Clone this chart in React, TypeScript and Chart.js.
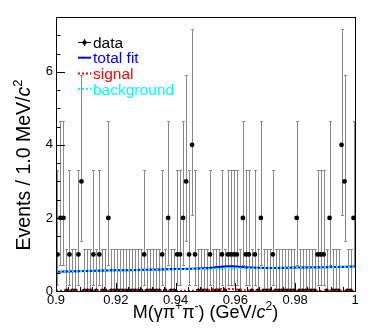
import React, { useEffect, useRef } from "react";
import { Chart, registerables } from "chart.js";

Chart.register(...registerables);

// ---- data ----
const binLow = 0.9;
const binWidth = 0.001;
// events per 1 MeV bin, 0.900 - 1.000 GeV
const counts = [
  1, 2, 2, 0, 1, 0, 0, 1, 3, 0,
  0, 0, 1, 0, 1, 0, 0, 2, 0, 0,
  0, 0, 0, 0, 0, 0, 0, 0, 0, 1,
  0, 0, 0, 0, 0, 1, 0, 2, 0, 0,
  1, 1, 2, 3, 1, 4, 1, 0, 0, 0,
  0, 1, 0, 0, 0, 1, 0, 1, 1, 1,
  1, 0, 2, 1, 1, 0, 1, 0, 2, 0,
  0, 0, 1, 0, 0, 0, 0, 0, 0, 0,
  2, 0, 0, 0, 0, 0, 0, 1, 1, 1,
  0, 2, 0, 0, 0, 4, 3, 0, 0, 2,
];
// Poisson (Garwood) interval half-widths by count
const poissonLo = [0, 0.83, 1.29, 1.63, 1.91];
const poissonHi = [1.15, 2.3, 2.64, 2.92, 3.16];

const fitX = [0.9, 0.91, 0.92, 0.93, 0.94, 0.945, 0.95, 0.953, 0.956, 0.959, 0.962, 0.965, 0.97, 0.98, 0.99, 1.0];
const totalFit = [0.53, 0.548, 0.565, 0.58, 0.6, 0.607, 0.625, 0.645, 0.67, 0.675, 0.66, 0.64, 0.632, 0.64, 0.652, 0.67];
const background = [0.53, 0.548, 0.565, 0.58, 0.595, 0.6, 0.605, 0.608, 0.612, 0.615, 0.618, 0.62, 0.625, 0.64, 0.652, 0.67];

const sigX = [0.9, 0.94, 0.948, 0.951, 0.954, 0.957, 0.96, 0.963, 0.966, 0.975, 1.0];
const signal = [0.006, 0.007, 0.01, 0.025, 0.05, 0.06, 0.045, 0.02, 0.009, 0.006, 0.006];

const xTicks = [0.9, 0.92, 0.94, 0.96, 0.98, 1.0];
const xTickLabels = ["0.9", "0.92", "0.94", "0.96", "0.98", "1"];
const yTicks = [0, 2, 4, 6];
const yTickLabels = ["0", "2", "4", "6"];
const legendLabels = ["data", "total fit", "signal", "background"];

const FONT = "'Liberation Sans', Arial, Helvetica, sans-serif";

const binCenters = counts.map((_, i) => binLow + (i + 0.5) * binWidth);

type Seg = { t: string; italic?: boolean; sup?: boolean };

function drawRich(ctx: CanvasRenderingContext2D, segs: Seg[], size: number, cx: number, baseY: number) {
  const fontFor = (s: Seg) => `${s.italic ? "italic " : ""}${s.sup ? Math.round(size * 0.68) : size}px ${FONT}`;
  let total = 0;
  const widths = segs.map((s) => {
    ctx.font = fontFor(s);
    const w = ctx.measureText(s.t).width;
    total += w;
    return w;
  });
  let x = cx - total / 2;
  ctx.textAlign = "left";
  ctx.textBaseline = "alphabetic";
  segs.forEach((s, i) => {
    ctx.font = fontFor(s);
    ctx.fillText(s.t, x, s.sup ? baseY - size * 0.42 : baseY);
    x += widths[i];
  });
}

const rootPlugin = {
  id: "rootStyle",
  beforeDatasetsDraw(chart: any) {
    const { ctx, scales } = chart;
    const x = scales.x;
    const y = scales.y;
    ctx.save();
    ctx.strokeStyle = "#8a8a8a";
    ctx.lineWidth = 1;
    counts.forEach((n, i) => {
      const cx = Math.round(x.getPixelForValue(binCenters[i])) + 0.5;
      const yHi = Math.round(y.getPixelForValue(n + poissonHi[n])) + 0.5;
      const yLo = Math.round(y.getPixelForValue(n - poissonLo[n])) + 0.5;
      ctx.beginPath();
      ctx.moveTo(cx, yLo);
      ctx.lineTo(cx, yHi);
      ctx.moveTo(cx - 1.5, yHi);
      ctx.lineTo(cx + 1.5, yHi);
      if (n > 0) {
        ctx.moveTo(cx - 1.5, yLo);
        ctx.lineTo(cx + 1.5, yLo);
      }
      ctx.stroke();
    });
    ctx.restore();
  },
  afterDatasetsDraw(chart: any) {
    const { ctx, chartArea, scales } = chart;
    const x = scales.x;
    const y = scales.y;
    const { left, right, top, bottom } = chartArea;
    ctx.save();
    // frame
    ctx.strokeStyle = "#000";
    ctx.lineWidth = 1;
    ctx.strokeRect(Math.round(left) + 0.5, Math.round(top) + 0.5, Math.round(right - left), Math.round(bottom - top));
    // y ticks
    ctx.beginPath();
    for (let v = 0; v <= 7.5 + 1e-9; v += 0.5) {
      const py = Math.round(y.getPixelForValue(v)) + 0.5;
      const major = yTicks.some((t) => Math.abs(t - v) < 1e-9);
      ctx.moveTo(left, py);
      ctx.lineTo(left + (major ? 9 : 4.5), py);
    }
    // x ticks
    for (let k = 0; k <= 25; k++) {
      const v = 0.9 + k * 0.004;
      const px = Math.round(x.getPixelForValue(v)) + 0.5;
      const major = k % 5 === 0;
      ctx.moveTo(px, bottom);
      ctx.lineTo(px, bottom - (major ? 8 : 4));
    }
    ctx.stroke();

    // legend
    const lx0 = 78;
    const lx1 = 91;
    const tx = 93;
    const baselines = [47.5, 63.2, 78.9, 94.6];
    const colors = ["#000000", "#0000ff", "#ff0000", "#00ffff"];
    legendLabels.forEach((lab, i) => {
      const by = baselines[i];
      const my = by - 5.5;
      ctx.save();
      if (i === 0) {
        ctx.strokeStyle = "#000";
        ctx.lineWidth = 1;
        ctx.beginPath();
        ctx.moveTo(lx0, my + 0.5);
        ctx.lineTo(lx1, my + 0.5);
        ctx.moveTo(84.5, my - 3);
        ctx.lineTo(84.5, my + 4);
        ctx.stroke();
        ctx.fillStyle = "#000";
        ctx.beginPath();
        ctx.arc(84.5, my + 0.5, 2.2, 0, Math.PI * 2);
        ctx.fill();
      } else {
        ctx.strokeStyle = colors[i];
        ctx.lineWidth = 2;
        if (i > 1) ctx.setLineDash([2, 2]);
        ctx.beginPath();
        ctx.moveTo(lx0, my);
        ctx.lineTo(lx1, my);
        ctx.stroke();
      }
      ctx.restore();
      ctx.fillStyle = colors[i];
      ctx.font = `15.5px ${FONT}`;
      ctx.textAlign = "left";
      ctx.textBaseline = "alphabetic";
      ctx.fillText(lab, tx, by);
    });

    // axis titles
    ctx.fillStyle = "#000";
    drawRich(
      ctx,
      [
        { t: "M(\u03b3\u03c0" },
        { t: "+", sup: true },
        { t: "\u03c0" },
        { t: "-", sup: true },
        { t: ") (GeV/" },
        { t: "c", italic: true },
        { t: "2", sup: true },
        { t: ")" },
      ],
      18,
      (left + right) / 2,
      318
    );
    ctx.save();
    ctx.translate(30, 165);
    ctx.rotate(-Math.PI / 2);
    drawRich(
      ctx,
      [{ t: "Events / 1.0 MeV/" }, { t: "c", italic: true }, { t: "2", sup: true }],
      19.5,
      0,
      0
    );
    ctx.restore();
    ctx.restore();
  },
};

export default function App() {
  const ref = useRef<HTMLCanvasElement | null>(null);
  useEffect(() => {
    if (!ref.current) return;
    const chart = new Chart(ref.current, {
      type: "scatter",
      data: {
        datasets: [
          {
            label: "data",
            data: counts.map((n, i) => ({ x: binCenters[i], y: n })),
            pointRadius: 2.4,
            pointHoverRadius: 2.4,
            pointBackgroundColor: "#000",
            pointBorderWidth: 0,
            showLine: false,
            order: 4,
          } as any,
          {
            label: "total fit",
            data: fitX.map((v, i) => ({ x: v, y: totalFit[i] })),
            showLine: true,
            borderColor: "#0000ff",
            borderWidth: 2,
            pointRadius: 0,
            cubicInterpolationMode: "monotone",
            order: 3,
          } as any,
          {
            label: "signal",
            data: sigX.map((v, i) => ({ x: v, y: signal[i] })),
            showLine: true,
            borderColor: "#ff0000",
            borderWidth: 2,
            borderDash: [2, 2],
            pointRadius: 0,
            cubicInterpolationMode: "monotone",
            order: 2,
          } as any,
          {
            label: "background",
            data: fitX.map((v, i) => ({ x: v, y: background[i] })),
            showLine: true,
            borderColor: "#00ffff",
            borderWidth: 2,
            borderDash: [2, 2],
            pointRadius: 0,
            cubicInterpolationMode: "monotone",
            order: 1,
          } as any,
        ],
      },
      options: {
        responsive: false,
        animation: false,
        events: [],
        layout: { padding: { top: 17, right: 19, left: 0, bottom: 0 } },
        plugins: { legend: { display: false }, tooltip: { enabled: false } },
        scales: {
          x: {
            type: "linear",
            min: 0.9,
            max: 1.0,
            grid: { display: false, drawTicks: false },
            border: { display: false },
            afterBuildTicks: (s: any) => {
              s.ticks = xTicks.map((v) => ({ value: v }));
            },
            afterFit: (s: any) => {
              s.height = 40;
            },
            ticks: {
              autoSkip: false,
              maxRotation: 0,
              padding: 2,
              color: "#000",
              font: { family: FONT, size: 13 },
              callback: (v: any) => {
                const idx = xTicks.findIndex((t) => Math.abs(t - Number(v)) < 1e-9);
                return idx >= 0 ? xTickLabels[idx] : "";
              },
            },
          },
          y: {
            type: "linear",
            min: 0,
            max: 7.5,
            grid: { display: false, drawTicks: false },
            border: { display: false },
            afterBuildTicks: (s: any) => {
              s.ticks = yTicks.map((v) => ({ value: v }));
            },
            afterFit: (s: any) => {
              s.width = 56;
            },
            ticks: {
              autoSkip: false,
              padding: 3,
              color: "#000",
              font: { family: FONT, size: 13 },
              callback: (v: any) => {
                const idx = yTicks.findIndex((t) => Math.abs(t - Number(v)) < 1e-9);
                return idx >= 0 ? yTickLabels[idx] : "";
              },
            },
          },
        },
      },
      plugins: [rootPlugin],
    });
    return () => chart.destroy();
  }, []);
  return (
    <div style={{ position: "absolute", left: 0, top: 0, width: 374, height: 331, background: "#fff" }}>
      <canvas ref={ref} width={374} height={331} style={{ width: 374, height: 331, display: "block" }} />
    </div>
  );
}
